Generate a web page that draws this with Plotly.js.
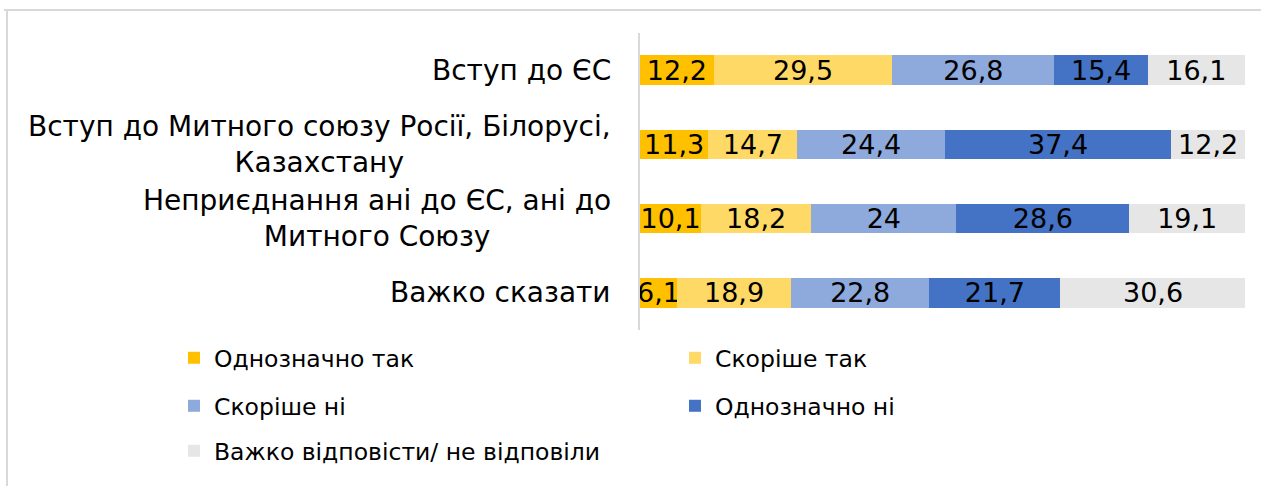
<!DOCTYPE html>
<html>
<head>
<meta charset="utf-8">
<script src="https://cdn.plot.ly/plotly-3.0.1.min.js"></script>
<style>
html,body{margin:0;padding:0;background:#fff;}
#chart{width:1261px;height:486px;}
</style>
</head>
<body>
<div id="chart"></div>
<script>
// ---- data ----
const categories = [
  "Вступ до ЄС",
  "Вступ до Митного союзу Росії, Білорусі,<br>Казахстану",
  "Неприєднання ані до ЄС, ані до<br>Митного Союзу",
  "Важко сказати"
];
const seriesNames = [
  "Однозначно так",
  "Скоріше так",
  "Скоріше ні",
  "Однозначно ні",
  "Важко відповісти/ не відповіли"
];
const definitelyYes = [12.2, 11.3, 10.1, 6.1];
const ratherYes     = [29.5, 14.7, 18.2, 18.9];
const ratherNo      = [26.8, 24.4, 24, 22.8];
const definitelyNo  = [15.4, 37.4, 28.6, 21.7];
const hardToSay     = [16.1, 12.2, 19.1, 30.6];

// ---- styling ----
const colors = ["#FFC000", "#FFD966", "#8EA9DB", "#4472C4", "#E7E6E6"];
const legendIds = ["legend", "legend", "legend2", "legend2", "legend3"];
const FONT = "'DejaVu Sans', Arial, sans-serif";

// pixel helpers (plot area: x 640..1245, y 33..330)
const L = 640, R = 16, T = 33, B = 156, W = 1261, H = 486;
const PW = W - L - R, PH = H - T - B;
const px = p => (p - L) / PW;
const py = p => 1 - (p - T) / PH;

const allSeries = [definitelyYes, ratherYes, ratherNo, definitelyNo, hardToSay];
const traces = allSeries.map((vals, i) => ({
  type: "bar",
  orientation: "h",
  name: seriesNames[i],
  x: vals,
  y: categories,
  legend: legendIds[i],
  marker: {color: colors[i], line: {width: 0}},
  text: vals.map(v => String(v).replace(".", ",")),
  textposition: "inside",
  insidetextanchor: "middle",
  textangle: 0,
  constraintext: "none",
  textfont: {family: FONT, size: 27, color: "#000"},
  hoverinfo: "name+x"
}));

const annotations = categories.map(c => ({
  xref: "paper", yref: "y",
  x: 0, y: c,
  xanchor: "right", yanchor: "middle",
  xshift: -27,
  align: "center",
  showarrow: false,
  text: c,
  font: {family: FONT, size: 28, color: "#000"}
}));

const legendBase = {
  orientation: "h",
  traceorder: "normal",
  xanchor: "left", yanchor: "middle",
  x: px(174),
  font: {family: FONT, size: 23.5, color: "#000"},
  entrywidth: 456, entrywidthmode: "pixels",
  bgcolor: "rgba(0,0,0,0)",
  itemclick: false, itemdoubleclick: false
};

const layout = {
  width: W, height: H,
  margin: {l: L, r: R, t: T, b: B, pad: 0},
  paper_bgcolor: "#fff",
  plot_bgcolor: "#fff",
  barmode: "stack",
  bargap: 0.6,
  separators: ", ",
  showlegend: true,
  xaxis: {range: [0, 100], visible: false, fixedrange: true},
  yaxis: {
    autorange: "reversed",
    showline: true, linecolor: "#d9d9d9", linewidth: 2,
    showticklabels: false, ticks: "", showgrid: false, zeroline: false,
    fixedrange: true
  },
  legend: Object.assign({}, legendBase, {y: py(358)}),
  legend2: Object.assign({}, legendBase, {y: py(406)}),
  legend3: Object.assign({}, legendBase, {y: py(451)}),
  annotations: annotations,
  shapes: [
    {type: "line", xref: "paper", yref: "paper", x0: px(4), x1: px(1261), y0: py(10), y1: py(10),
     line: {color: "#d9d9d9", width: 2}},
    {type: "line", xref: "paper", yref: "paper", x0: px(7), x1: px(7), y0: py(10), y1: py(486),
     line: {color: "#d9d9d9", width: 2}}
  ]
};

Plotly.newPlot("chart", traces, layout, {displayModeBar: false, responsive: false});
</script>
</body>
</html>
